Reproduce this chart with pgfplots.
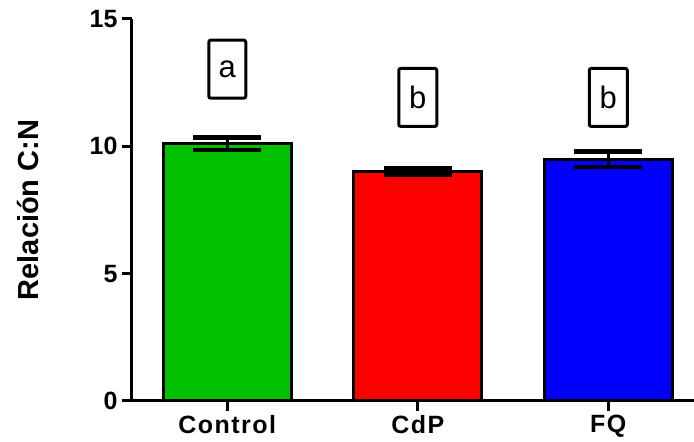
\documentclass[border=0pt]{standalone}
\usepackage{pgfplots}
\pgfplotsset{compat=1.18}
\usepackage{fontspec}
\setmainfont{Liberation Sans}
\newfontfamily\spaced[LetterSpace=6]{Liberation Sans}
\definecolor{cgreen}{RGB}{0,192,0}
\definecolor{cred}{RGB}{255,0,0}
\definecolor{cblue}{RGB}{0,0,255}
\begin{document}
\begin{tikzpicture}
\begin{axis}[
 at={(0,0)}, anchor=south west,
 scale only axis, width=562pt, height=382pt,
 xmin=-0.5, xmax=2.45, ymin=0, ymax=15,
 axis x line=bottom, axis y line=left,
 axis line style={line width=3pt, -},
 xtick={0,1,2}, xticklabels={Control,CdP,FQ},
 ytick={0,5,10,15},
 tick align=outside, major tick length=10pt,
 tick style={line width=3pt, black},
 /pgf/number format/assume math mode=true,
 yticklabel style={xshift=-1pt, font=\bfseries\fontsize{25}{25}\selectfont},
 xticklabel style={yshift=-1pt, font=\spaced\bfseries\fontsize{25}{25}\selectfont},
 ylabel={Relación C:N},
 every axis y label/.style={at={(axis description cs:-0.185,0.5)}, rotate=90, anchor=center, font=\bfseries\fontsize{29}{29}\selectfont},
 ybar, bar width=128pt, bar shift=0pt,
 error bars/y dir=both, error bars/y explicit,
 error bars/error mark=|,
 error bars/error bar style={line width=3pt, black},
 error bars/error mark options={line width=4.5pt, mark size=34pt, black},
]
\addplot[fill=cgreen, draw=black, line width=3pt] coordinates {(0,10.1) +- (0,0.25)};
\addplot[fill=cred, draw=black, line width=3pt] coordinates {(1,9.02) +- (0,0.12)};
\addplot[fill=cblue, draw=black, line width=3pt] coordinates {(2,9.49) +- (0,0.3)};
\node[draw, line width=3pt, rounded corners=2pt, minimum width=37pt, minimum height=58pt, inner sep=0pt, font=\fontsize{31}{31}\selectfont] at (axis cs:0,13.03) {a};
\node[draw, line width=3pt, rounded corners=2pt, minimum width=38pt, minimum height=58pt, inner sep=0pt, font=\fontsize{31}{31}\selectfont] at (axis cs:1,11.92) {b};
\node[draw, line width=3pt, rounded corners=2pt, minimum width=38pt, minimum height=58pt, inner sep=0pt, font=\fontsize{31}{31}\selectfont] at (axis cs:2,11.92) {b};
\end{axis}
\pgfresetboundingbox
\useasboundingbox (-132pt,-41pt) rectangle (562pt,401pt);
\end{tikzpicture}
\end{document}
